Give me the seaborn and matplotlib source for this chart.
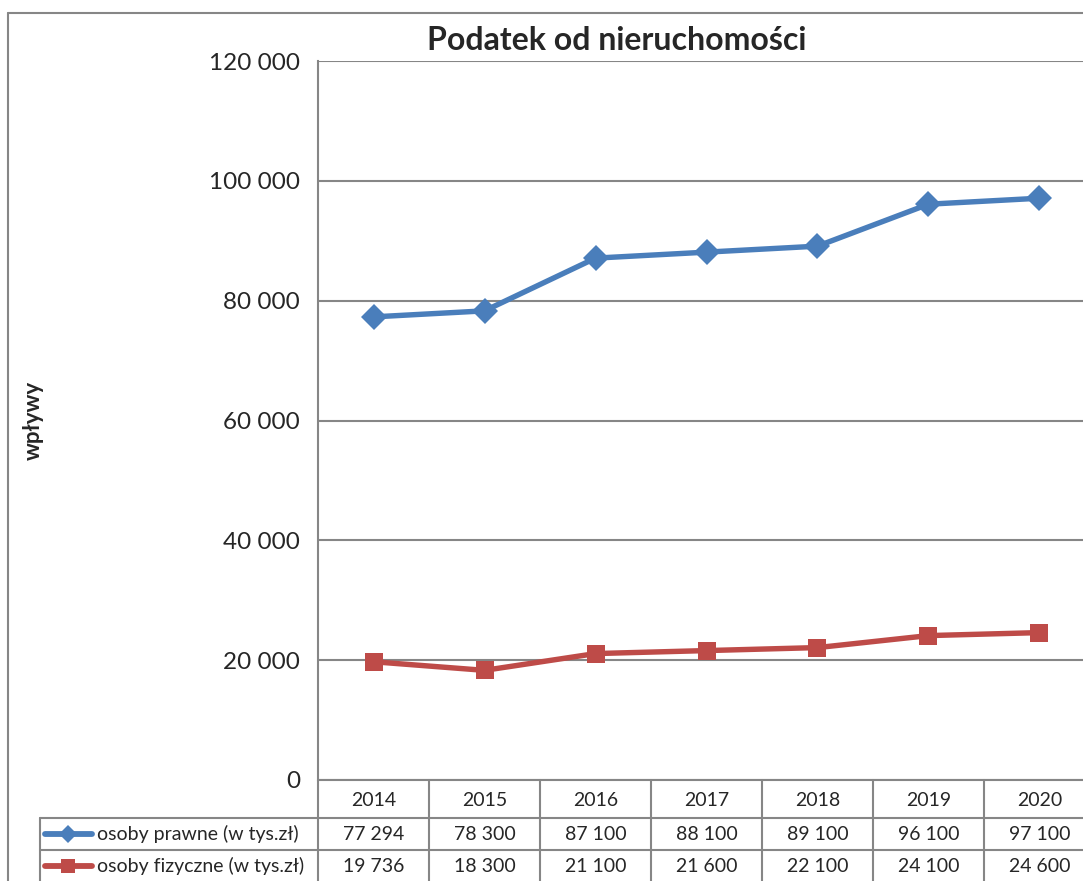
"""Podatek od nieruchomości - line chart with an Excel-style data table."""

import matplotlib

matplotlib.use("Agg")
import matplotlib.pyplot as plt
import matplotlib.transforms as mtransforms
import pandas as pd
import seaborn as sns
from matplotlib.lines import Line2D

# Data
years = ["2014", "2015", "2016", "2017", "2018", "2019", "2020"]
osoby_prawne = [77294, 78300, 87100, 88100, 89100, 96100, 97100]
osoby_fizyczne = [19736, 18300, 21100, 21600, 22100, 24100, 24600]
series_names = ["osoby prawne (w tys.zł)", "osoby fizyczne (w tys.zł)"]
y_ticks = [0, 20000, 40000, 60000, 80000, 100000, 120000]

title = "Podatek od nieruchomości"
y_label = "wpływy"

colors = ["#4A7EBB", "#BE4B48"]
markers = ["D", "s"]
grid_color = "#868686"

W, H = 1083, 881


def fx(x):
    return x / W


def fy(y):
    return 1 - y / H


def fmt(v):
    return f"{v:,}".replace(",", " ")


sns.set_theme(style="white")
plt.rcParams["font.family"] = ["Lato", "DejaVu Sans"]

df = pd.DataFrame(
    {
        "rok": years * 2,
        "wartosc": osoby_prawne + osoby_fizyczne,
        "seria": [series_names[0]] * len(years) + [series_names[1]] * len(years),
    }
)

fig = plt.figure(figsize=(W / 100, H / 100), dpi=100)
ax = fig.add_axes([fx(318), fy(780), fx(1095) - fx(318), fy(61) - fy(780)])

sns.lineplot(
    data=df,
    x="rok",
    y="wartosc",
    hue="seria",
    style="seria",
    markers=dict(zip(series_names, markers)),
    dashes=False,
    palette=dict(zip(series_names, colors)),
    linewidth=3.9,
    markersize=13,
    markeredgewidth=0,
    legend=False,
    ax=ax,
    zorder=3,
)
# squares look smaller than diamonds at the same size
ax.lines[1].set_markersize(13.5)
ax.lines[0].set_markersize(13.5)

ax.set_xlim(-0.5, len(years) - 0.5)
ax.set_ylim(0, 120000)
ax.set_yticks(y_ticks)
ax.set_yticklabels([fmt(v) for v in y_ticks], fontsize=17.5)
ax.tick_params(axis="y", length=0, pad=13)
ax.set_xticks([])
ax.set_xlabel("")
ax.set_ylabel("")
ax.grid(axis="y", color=grid_color, linewidth=1.5)
ax.set_axisbelow(True)
for side in ["top", "right", "bottom"]:
    ax.spines[side].set_visible(False)
ax.spines["left"].set_color(grid_color)
ax.spines["left"].set_linewidth(1.5)

fig.text(fx(617), fy(41), title, ha="center", va="center",
         fontsize=23, fontweight="bold")
fig.text(fx(33), fy(420), y_label, ha="center", va="center",
         rotation=90, fontsize=16, fontweight="bold")

# Outer chart border
for xs, ys in [([8, 8], [13, 900]), ([8, 1100], [13, 13])]:
    fig.add_artist(Line2D([fx(x) for x in xs], [fy(y) for y in ys],
                          color=grid_color, linewidth=1.5))

# Data table below the plot
blend = mtransforms.blended_transform_factory(ax.transData, fig.transFigure)
row_lines = [780, 818, 850]
row_centers = [800, 834, 866]
x_end = len(years) - 0.5

ax.add_artist(Line2D([-0.5, x_end], [fy(780)] * 2, transform=blend,
                     color=grid_color, linewidth=1.5, clip_on=False))
for y in row_lines[1:]:
    fig.add_artist(Line2D([fx(40), fx(1100)], [fy(y)] * 2,
                          color=grid_color, linewidth=1.5))
fig.add_artist(Line2D([fx(40), fx(40)], [fy(818), fy(900)],
                      color=grid_color, linewidth=1.5))
for i in range(len(years) + 1):
    ax.add_artist(Line2D([i - 0.5, i - 0.5], [fy(780), fy(900)], transform=blend,
                         color=grid_color, linewidth=1.5, clip_on=False))

for i, yr in enumerate(years):
    ax.text(i, fy(row_centers[0]), yr, transform=blend, ha="center",
            va="center", fontsize=14)
    for r, vals in enumerate([osoby_prawne, osoby_fizyczne]):
        ax.text(i, fy(row_centers[r + 1]), fmt(vals[i]), transform=blend,
                ha="center", va="center", fontsize=14)

for r, name in enumerate(series_names):
    yc = fy(row_centers[r + 1])
    fig.add_artist(Line2D([fx(45), fx(92)], [yc, yc], color=colors[r],
                          linewidth=4.2, solid_capstyle="round"))
    fig.add_artist(Line2D([fx(68)], [yc], color=colors[r], marker=markers[r],
                          markersize=9.5, markeredgewidth=0))
    fig.text(fx(97), yc, name, ha="left", va="center", fontsize=14)

fig.savefig("out.png", dpi=100)
